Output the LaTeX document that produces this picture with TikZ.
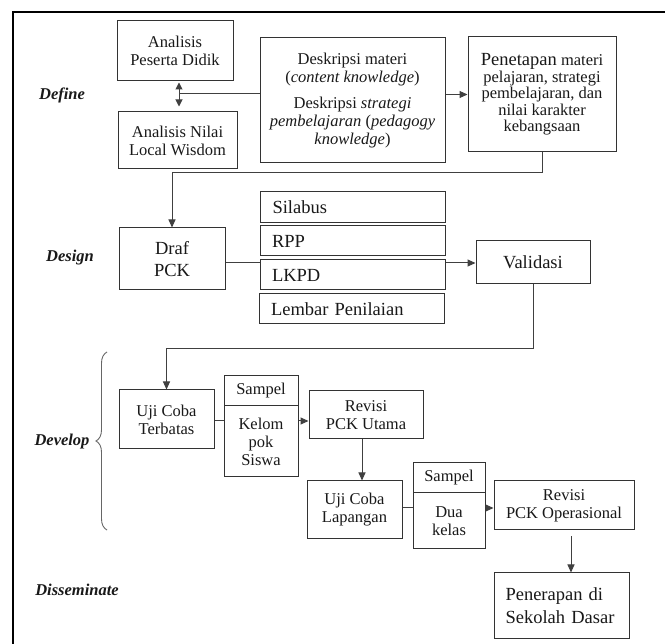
\documentclass[tikz,border=0pt]{standalone}
\usepackage{fontspec}
\setmainfont{Liberation Serif}
\usetikzlibrary{arrows.meta,decorations.pathreplacing}
\newcommand\nfont{\fontsize{16.5}{18}\selectfont}
\newcommand\bigfnt{\fontsize{18.5}{22}\selectfont}
\newcommand\lblfnt{\fontsize{16.5}{18}\selectfont\bfseries\itshape}
\begin{document}
\begin{tikzpicture}[x=1pt,y=-1pt,
  box/.style={draw=black!80, line width=1pt, inner sep=2pt, align=center, font=\nfont, text=black!90},
  lbox/.style={box, font=\bigfnt, align=left, inner xsep=12pt, text width=161pt},
  conn/.style={draw=black!75, line width=1pt},
  arr/.style={conn, -{Triangle[length=8pt,width=7pt]}},
  lbl/.style={font=\lblfnt, text=black!90}]
\useasboundingbox (0,0) rectangle (665,644);
\fill[white] (0,0) rectangle (665,644);
\draw[line width=2pt] (13,645) -- (13,12) -- (666,12);

% phase labels
\node[lbl] (ldef) at (62,95) {Define};
\node[lbl] (ldes) at (70,258) {Design};
\node[lbl] (ldev) at (62,442) {Develop};
\node[lbl] (ldis) at (77,590) {Disseminate};
\draw[black!60, line width=0.9pt, decorate, decoration={brace, amplitude=11pt}] (107,530) -- (107,352);

% Define
\node[box, minimum width=116pt, minimum height=60pt] (pd) at (175,51) {Analisis\\Peserta Didik};
\node[box, minimum width=119pt, minimum height=57pt] (nw) at (177.5,140.5) {Analisis Nilai\\Local Wisdom};
\node[box, minimum width=185pt, minimum height=125pt] (desk) at (352.5,100.5)
  {Deskripsi materi\\(\textit{content knowledge})\\[8pt]Deskripsi \textit{strategi}\\\textit{pembelajaran} (\textit{pedagogy}\\\textit{knowledge})};
\node[box, minimum width=148pt, minimum height=115pt, font=\fontsize{16.5}{16.5}\selectfont] (pen) at (542,94.5)
  {{\bigfnt Penetapan} materi\\pelajaran, strategi\\pembelajaran, dan\\nilai karakter\\kebangsaan};

% Design
\node[box, font=\bigfnt, minimum width=106pt, minimum height=62pt] (draf) at (172,259) {Draf\\PCK};
\node[lbox, minimum height=31pt] (sil) at (353,207.5) {Silabus};
\node[lbox, minimum height=30pt] (rpp) at (352.5,241) {RPP};
\node[lbox, minimum height=30pt] (lkpd) at (352.5,275) {LKPD};
\node[lbox, minimum height=30pt] (lem) at (351.5,309) {Lembar Penilaian};
\node[box, font=\bigfnt, minimum width=114pt, minimum height=43pt] (val) at (533,262.5) {Validasi};

% Develop
\node[box, minimum width=95pt, minimum height=59pt] (ujt) at (166.5,419.5) {Uji Coba\\Terbatas};
\node[box, minimum width=74pt, minimum height=30pt] (s1t) at (261,391) {Sampel};
\node[box, minimum width=74pt, minimum height=71pt] (s1b) at (261,441.5) {Kelom\\pok\\Siswa};
\node[box, minimum width=114pt, minimum height=48pt] (rpu) at (366,415) {Revisi\\PCK Utama};
\node[box, minimum width=95pt, minimum height=58pt] (ujl) at (354.5,510) {Uji Coba\\Lapangan};
\node[box, minimum width=72pt, minimum height=30pt] (s2t) at (449,478) {Sampel};
\node[box, minimum width=72pt, minimum height=56pt] (s2b) at (449,521) {Dua\\kelas};
\node[box, minimum width=140pt, minimum height=49pt] (rpo) at (564,505.5) {Revisi\\PCK Operasional};

% Disseminate
\node[box, font=\fontsize{18.5}{23}\selectfont, align=left, inner xsep=11.5pt, text width=112pt, minimum height=66pt] (pnr) at (561.5,606) {Penerapan di\\Sekolah Dasar};

% connectors: Define
\coordinate (dj) at (179,94);
\draw[conn, {Triangle[length=7pt,width=7pt]}-{Triangle[length=7pt,width=7pt]}]
  ([xshift=4pt,yshift=-1pt]pd.south) -- ([xshift=1.5pt,yshift=5pt]nw.north);
\draw[conn] (desk.west |- dj) -- (dj);
\draw[arr] (desk.east |- pen.west) -- (pen.west);
\coordinate (j1) at (172,173);
\draw[arr] (pen.south) |- (j1) -- (draf.north);

% Design
\coordinate (r1) at (0,263);
\draw[conn] (draf.east |- r1) -- (lkpd.west |- r1);
\draw[arr] (lkpd.east |- r1) -- (val.west |- r1);
\coordinate (j2) at (0,349);
\draw[arr] (val.south) |- (ujt.north |- j2) -- (ujt.north);

% Develop
\coordinate (r2) at (0,421);
\draw[conn] (ujt.east |- r2) -- (s1b.west |- r2);
\draw[arr] (s1b.east |- r2) -- (rpu.west |- r2);
\coordinate (v1) at (362,0);
\draw[arr] (rpu.south -| v1) -- (ujl.north -| v1);
\coordinate (r3) at (0,508);
\draw[conn] (ujl.east |- r3) -- (s2b.west |- r3);
\draw[arr] (s2b.east |- r3) -- (rpo.west |- r3);
\coordinate (v2) at (571,0);
\coordinate (rpob) at ([yshift=-6pt]rpo.south);
\draw[arr] (rpob -| v2) -- (pnr.north -| v2);
\end{tikzpicture}
\end{document}
